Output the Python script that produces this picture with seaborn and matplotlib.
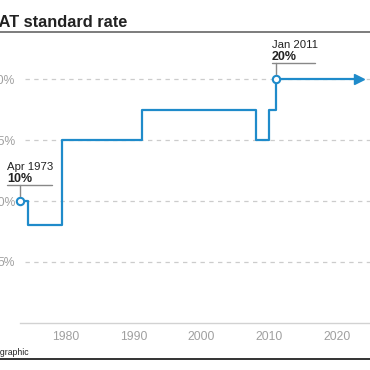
import matplotlib
matplotlib.use('Agg')
import matplotlib.pyplot as plt
from matplotlib.lines import Line2D
import seaborn as sns
import pandas as pd

# VAT standard rate history (step changes)
years = [1973.25, 1974.5, 1979.45, 1991.25, 2008.0, 2010.0, 2011.0, 2023.3]
rates = [10, 8, 15, 17.5, 15, 17.5, 20, 20]
ytick_vals = [5, 10, 15, 20]
ytick_labels = ['5%', '10%', '15%', '20%']
xtick_vals = [1980, 1990, 2000, 2010, 2020]

df = pd.DataFrame({'year': years, 'rate': rates})

sns.set_style('white')
plt.rcParams['font.family'] = ['Liberation Sans', 'DejaVu Sans']

blue = '#1f8bca'
W = 370.0
PT = 0.72  # points per pixel at dpi 100

fig = plt.figure(figsize=(3.7, 3.7), dpi=100)
ax = fig.add_axes([20 / W, 47 / W, 350 / W, 23 * 12.2 / W])

# gridlines first so the line sits on top
for v in ytick_vals:
    ax.axhline(v, xmin=5 / 350, xmax=1, color='#cccccc', lw=0.9,
               ls=(0, (3.5, 3.5)), zorder=0)

sns.lineplot(data=df, x='year', y='rate', drawstyle='steps-post',
             color=blue, lw=1.6, ax=ax, zorder=3)

# end arrow and start/end markers
ax.plot(years[-1], rates[-1], marker='>', ms=7, color=blue, clip_on=False, zorder=4)
for i in [0, 6]:
    ax.plot(years[i], rates[i], marker='o', ms=5.3, mfc='white', mec=blue,
            mew=1.5, clip_on=False, zorder=5)

ax.set_xlim(1973.25, 1973.25 + 350 / 6.78)
ax.set_ylim(0, 23)
ax.set_xticks(xtick_vals)
ax.set_xticklabels([str(v) for v in xtick_vals])
ax.set_yticks(ytick_vals)
ax.set_yticklabels(ytick_labels)
ax.tick_params(axis='both', length=0, labelsize=8.7, labelcolor='#a0a0a0')
ax.tick_params(axis='x', pad=5.5)
ax.tick_params(axis='y', pad=3.5)
ax.set_xlabel('')
ax.set_ylabel('')
for s in ['top', 'right', 'left']:
    ax.spines[s].set_visible(False)
ax.spines['bottom'].set_color('#d2d2d2')
ax.spines['bottom'].set_linewidth(1.0)

# callouts
def callout(i, when, val, dx0, dx1, gap):
    ax.annotate(when, (years[i], rates[i]), xytext=(dx0 * PT, 31 * PT),
                textcoords='offset points', fontsize=8.2, color='#222222',
                ha='left', va='baseline', annotation_clip=False)
    ax.annotate(val, (years[i], rates[i]), xytext=(dx0 * PT, 19.5 * PT),
                textcoords='offset points', fontsize=9, fontweight='bold',
                color='#222222', ha='left', va='baseline', annotation_clip=False)
    fig.canvas.draw()
    px, py = ax.transData.transform((years[i], rates[i]))
    fig.add_artist(Line2D([px + dx0, px + dx1], [py + 16.5, py + 16.5],
                          transform=None, color='#888888', lw=1.0))
    fig.add_artist(Line2D([px, px], [py + 16.5, py + gap],
                          transform=None, color='#888888', lw=1.0))

callout(0, 'Apr 1973', '10%', -13, 32, 5)
callout(6, 'Jan 2011', '20%', -4, 39, 5)

# title, rules and source
fig.text(-10.7 / W, 1 - 27 / W, 'VAT standard rate', fontsize=11.8,
         fontweight='bold', color='#222222', ha='left', va='baseline')
fig.add_artist(Line2D([0, 1], [1 - 32 / W, 1 - 32 / W], transform=fig.transFigure,
                      color='#666666', lw=1.2))
fig.text(-13.2 / W, 1 - 355 / W, 'PA graphic', fontsize=6.2, color='#222222',
         ha='left', va='baseline')
fig.add_artist(Line2D([0, 1], [1 - 358.5 / W, 1 - 358.5 / W], transform=fig.transFigure,
                      color='#333333', lw=1.4))

fig.savefig('out.png', dpi=100)
